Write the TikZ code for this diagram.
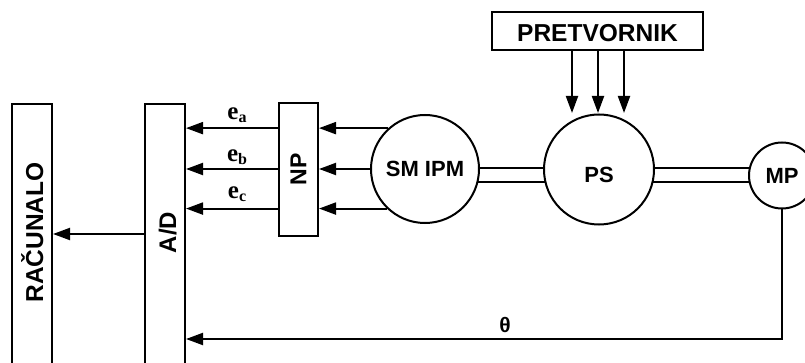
\documentclass[tikz,border=0pt]{standalone}
\usepackage{fontspec}
\setmainfont{Liberation Sans}
\newfontfamily\serifbf{Liberation Serif}
\usetikzlibrary{arrows.meta}
\begin{document}
\begin{tikzpicture}[x=1pt,y=-1pt,line width=2pt,
  box/.style={draw,fill=white,inner sep=0pt},
  disc/.style={draw,circle,fill=white,inner sep=0pt,font=\fontsize{22}{22}\selectfont\bfseries},
  txt/.style={inner sep=0pt,font=\fontsize{24.5}{24.5}\selectfont\bfseries},
  elab/.style={inner sep=0pt,font=\serifbf\fontsize{25}{25}\selectfont\bfseries},
  arr/.style={-{Triangle[length=17pt,width=12pt]}},
  shaft/.style={double,double distance=12pt}]
\useasboundingbox (0,0) rectangle (805,363);
\clip (0,0) rectangle (805,363);
% boxes
\node[box,minimum width=40pt,minimum height=320pt,anchor=north] (rac) at (32,103) {};
\node[txt,rotate=90,anchor=base] (racT) at (43,232.5) {RAČUNALO};
\node[box,minimum width=40pt,minimum height=320pt,anchor=north] (ad) at (165,103) {};
\node[txt,font=\fontsize{24}{24}\selectfont\bfseries,rotate=90,anchor=base] (adT) at (176,232.5) {A/D};
\node[box,font=\fontsize{23}{23}\selectfont\bfseries,minimum width=39pt,minimum height=133pt] (np) at (298.5,169.5) {\rotatebox{90}{NP}};
\node[box,txt,minimum width=211pt,minimum height=38pt,text height=22pt,text depth=0pt] (pret) at (597.5,31) {PRETVORNIK};
% shaft first, machines on top
\coordinate (csm) at (425,169);
\coordinate (cps) at (599,169.5);
\coordinate (cmp) at (782,175.5);
\coordinate (sh) at (0,175);
\draw[shaft] (csm |- sh) -- (cmp |- sh);
\node[disc,minimum size=108pt] (smipm) at (csm) {SM IPM};
\node[disc,minimum size=110pt,text height=27pt,text depth=0pt] (ps) at (cps) {PS};
\node[disc,minimum size=66pt] (mp) at (cmp) {MP};
% converter arrows
\coordinate (t1) at (572,113);
\coordinate (t2) at (598,113);
\coordinate (t3) at (624,113);
\draw[arr] (pret.south -| t1) -- (t1);
\draw[arr] (pret.south -| t2) -- (t2);
\draw[arr] (pret.south -| t3) -- (t3);
% phase voltages
\draw[arr] (smipm.132) -- (np.east |- smipm.132);
\draw[arr] (smipm.west) -- (np.east |- smipm.west);
\draw[arr] (smipm.226) -- (np.east |- smipm.226);
\draw[arr] (np.west |- smipm.132) -- node[elab,anchor=base,yshift=9pt,xshift=5pt] (ea) {e\raisebox{-3pt}{\fontsize{16}{16}\selectfont a}} (ad.east |- smipm.132);
\draw[arr] (np.west |- smipm.west) -- node[elab,anchor=base,yshift=7pt,xshift=5pt] (eb) {e\raisebox{-3pt}{\fontsize{16}{16}\selectfont b}} (ad.east |- smipm.west);
\draw[arr] (np.west |- smipm.226) -- node[elab,anchor=base,yshift=10pt,xshift=5pt] (ec) {e\raisebox{-3pt}{\fontsize{16}{16}\selectfont c}} (ad.east |- smipm.226);
% A/D to computer
\coordinate (yr) at (0,234);
\draw[arr] (ad.west |- yr) -- (rac.east |- yr);
% position feedback
\coordinate (yt) at (0,339);
\draw[arr] (mp.south) |- (ad.east |- yt);
\node[inner sep=0pt,anchor=base,font=\fontsize{21}{21}\selectfont\bfseries] (theta) at (505,332) {θ};
\end{tikzpicture}
\end{document}
